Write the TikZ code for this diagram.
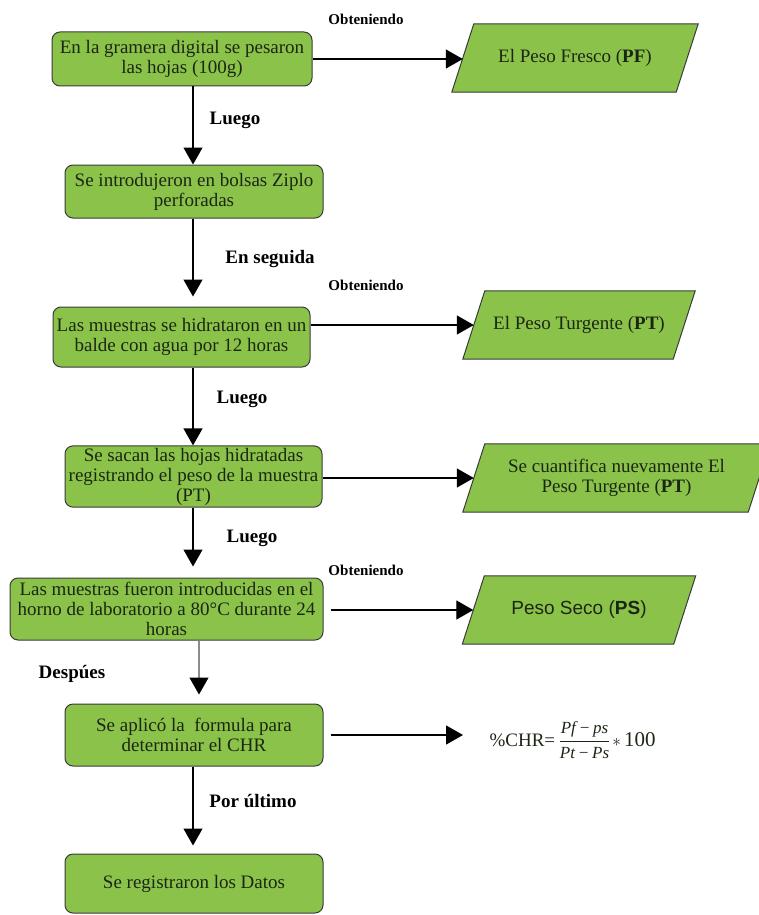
\documentclass[tikz,border=0pt]{standalone}
\usepackage{fontspec}
\setmainfont{Liberation Serif}
\newfontfamily\arialfont{Liberation Sans}
\usetikzlibrary{arrows.meta,backgrounds}
\definecolor{leaf}{HTML}{8BC34A}
\definecolor{rim}{HTML}{3A3A3A}
\definecolor{ink}{HTML}{1C2614}

\begin{document}
\begin{tikzpicture}[x=1pt,y=-1pt,>={Triangle[width=19pt,length=17pt]},
 box/.style={draw=rim,line width=1pt,rounded corners=8pt,fill=leaf,align=center,
 text=ink,inner sep=2pt,font=\fontsize{19}{20}\selectfont},
 data/.style={align=center,text=ink,inner sep=2pt,minimum height=68pt,
 font=\fontsize{19}{20}\selectfont},
 para/.style={draw=rim,line width=1pt,fill=leaf},
 tag/.style={font=\bfseries\fontsize{19}{20}\selectfont},
 obt/.style={font=\bfseries\fontsize{15}{16}\selectfont},
 link/.style={->,line width=1.3pt}]
\useasboundingbox (0,0) rectangle (758,915);
\clip (0,0) rectangle (758,915);
% main column
\node[box,minimum width=260pt,minimum height=54pt] (a) at (182,59) {En la gramera digital se pesaron\\las hojas (100g)};
\node[box,minimum width=258pt,minimum height=53pt] (b) at (194,191.5) {Se introdujeron en bolsas Ziplo\\perforadas};
\node[box,minimum width=257pt,minimum height=60pt] (c) at (181.5,337) {Las muestras se hidrataron en un\\balde con agua por 12 horas};
\node[box,minimum width=257pt,minimum height=59pt] (d) at (193.5,476.5) {Se sacan las hojas hidratadas\\registrando el peso de la muestra\\(PT)};
\node[box,minimum width=313pt,minimum height=62pt] (e) at (166.5,609) {Las muestras fueron introducidas en el\\horno de laboratorio a 80°C durante 24\\horas};
\node[box,minimum width=258pt,minimum height=62pt] (f) at (194,735) {Se aplicó la~ formula para\\determinar el CHR};
\node[box,minimum width=258pt,minimum height=59pt] (g) at (194,883.5) {Se registraron los Datos};
% results
\node[data,minimum width=224pt] (pf) at (575,58) {El Peso Fresco (\textbf{PF})};
\node[data,minimum width=210pt] (pt) at (579,325) {El Peso Turgente (\textbf{PT})};
\node[data,minimum width=285pt] (pt2) at (616.5,478) {Se cuantifica nuevamente El\\Peso Turgente (\textbf{PT})};
\node[data,minimum width=211pt,font=\arialfont\fontsize{19}{20}\selectfont] (ps) at (579,610) {Peso Seco (\textbf{PS})};
\node[text=ink,anchor=west,font=\fontsize{19}{20}\selectfont] (chr) at (486,742)
 {\%CHR= {\fontsize{17}{20}\selectfont\itshape\begin{tabular}{@{}c@{}}Pf\,−\,ps\\[2pt]\hline\rule{0pt}{17pt}Pt\,−\,Ps\end{tabular}}\,$\ast$\,{\fontsize{21}{22}\selectfont 100}};
\begin{scope}[on background layer]
\foreach \n in {pf,pt,pt2,ps}
 \draw[para] ([xshift=11pt]\n.north west) -- ([xshift=11pt]\n.north east)
 -- ([xshift=-11pt]\n.south east) -- ([xshift=-11pt]\n.south west) -- cycle;
\end{scope}
% labels
\node[obt] (o1) at (366,19) {Obteniendo};
\node[obt] (o2) at (366,285) {Obteniendo};
\node[obt] (o3) at (366,570) {Obteniendo};
\node[tag] (l1) at (235,120) {Luego};
\node[tag] (l2) at (270,259) {En seguida};
\node[tag] (l3) at (242,399) {Luego};
\node[tag] (l4) at (252,538) {Luego};
\node[tag] (l5) at (72,674) {Despúes};
\node[tag] (l6) at (253,801) {Por último};
% connectors
\coordinate (axis) at (193,0);
\coordinate (axis2) at (199,0);
\foreach \x/\y/\s in {a/b/0pt,b/c/10pt,c/d/0pt,d/e/11pt,f/g/8pt}
 \draw[link,shorten >=\s] (\x.south -| axis) -- (\y.north -| axis);
\draw[line width=1.3pt,black!45,-{Triangle[width=19pt,length=17pt,black]},shorten >=9pt] (e.south -| axis2) -- (f.north -| axis2);
\draw[link] (a.east) -- (a.east -| pf.west);
\draw[link] (c.east |- pt.west) -- (pt.west);
\draw[link] (d.east |- pt2.west) -- (pt2.west);
\draw[link,shorten <=7pt] (e.east |- ps.west) -- (ps.west);
\draw[link,shorten <=7pt,shorten >=23pt] (f.east) -- (f.east -| chr.west);
\end{tikzpicture}
\end{document}
